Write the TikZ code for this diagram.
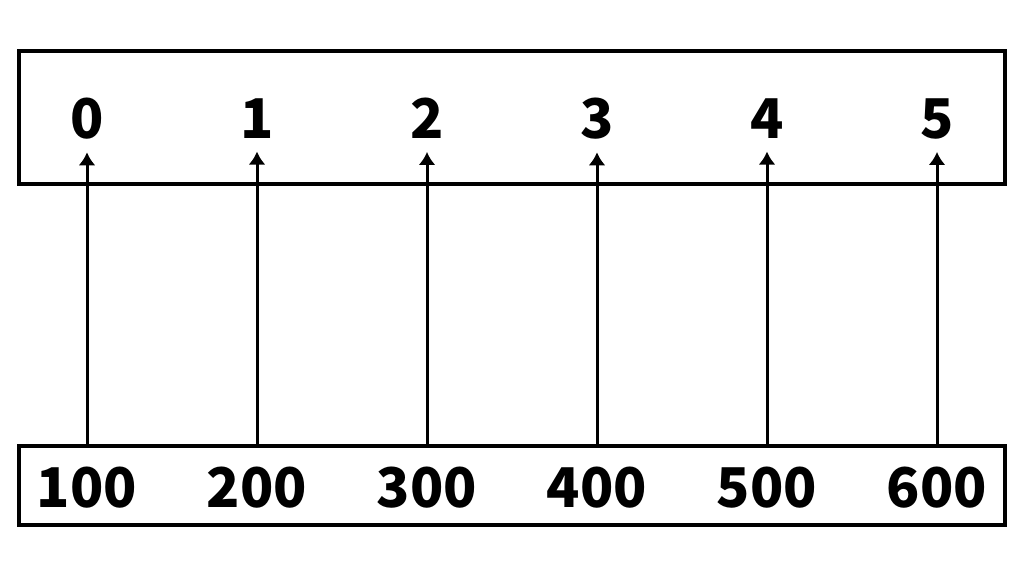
\documentclass[tikz,border=0pt]{standalone}
\usepackage{fontspec}
\setmainfont{Noto Sans CJK SC}
\usetikzlibrary{arrows.meta,calc,positioning}

\begin{document}
\begin{tikzpicture}[x=1bp,y=-1bp,font=\bfseries\fontsize{55}{60}\selectfont]
    \tikzstyle{box}=[draw, line width=3.5bp, rectangle, minimum width=986bp, inner sep=0pt]
    \tikzstyle{num}=[inner sep=0pt]
    \tikzstyle{map}=[line width=3bp, -{Latex[length=13bp,width=17bp]}]

    \useasboundingbox (0,0) rectangle (1024,576);

    \node[box, minimum height=133bp] (top) at (512,117.5) {};
    \node[box, minimum height=79bp]  (low) at (512,485.5) {};

    \foreach \k/\v in {0/100,1/200,2/300,3/400,4/500,5/600}{
      \node[num] (k\k) at (87+170*\k,118.5) {\k};
      \node[num] (v\k) at (87+170*\k,487.5) {\v};
      \draw[map] (v\k |- low.north) -- ([yshift=-13bp]k\k.south);
    }

\end{tikzpicture}
\end{document}
